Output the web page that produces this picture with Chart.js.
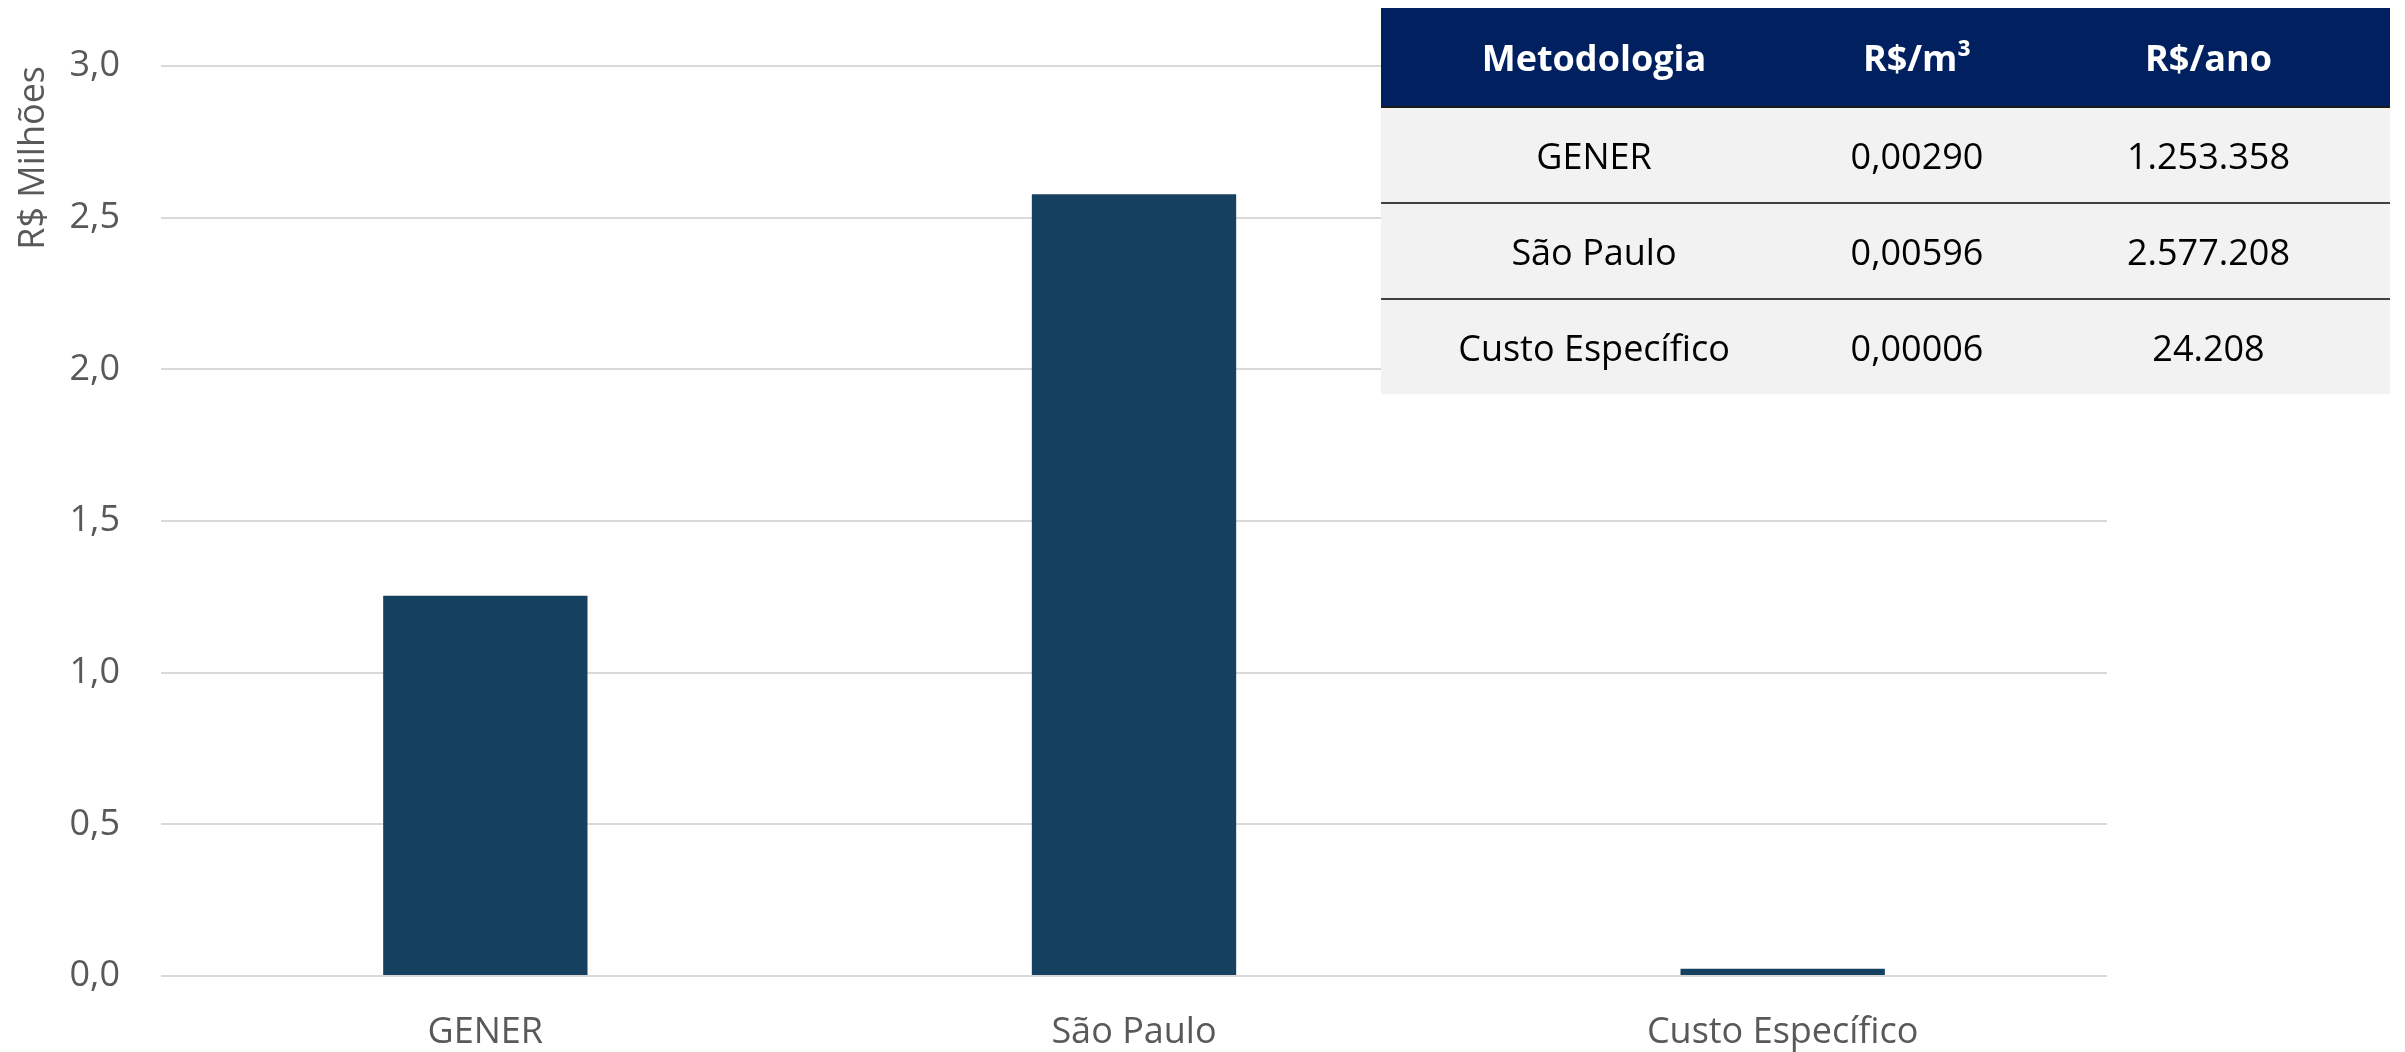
<!DOCTYPE html>
<html>
<head>
<meta charset="utf-8">
<script src="https://cdn.jsdelivr.net/npm/chart.js@4.4.0/dist/chart.umd.min.js"></script>
<style>
    html, body { margin: 0; padding: 0; background: #fff; }
    #wrap { position: relative; width: 2405px; height: 1052px; }
    #custos { position: absolute; left: 0; top: 0; }
    #tabela {
        position: absolute; left: 1381px; top: 8px; width: 1009px;
        border-collapse: collapse; font-family: "Open Sans", sans-serif; font-size: 36px;
        table-layout: fixed;
    }
    #tabela th {
        background: #002060; color: #fff; font-weight: bold; height: 98px; padding: 0;
        border-bottom: 2px solid #1a1a1a; text-align: center;
    }
    #tabela td {
        background: #f2f2f2; color: #000; height: 94px; padding: 0; text-align: center;
    }
    #tabela tr + tr td { border-top: 2px solid #404040; }
    #tabela tbody tr:first-child td { border-top: none; }
</style>
</head>
<body>
<div id="wrap">
    <canvas id="custos" width="2405" height="1052"></canvas>
    <table id="tabela">
        <colgroup><col style="width:426px"><col style="width:220px"><col style="width:363px"></colgroup>
        <thead><tr id="cabecalho"></tr></thead>
        <tbody id="corpo"></tbody>
    </table>
</div>
<script>
    // valores do gráfico (R$ milhões por ano)
    const metodologias = ['GENER', 'São Paulo', 'Custo Específico'];
    const custoAnualMilhoes = [1.253358, 2.577208, 0.024208];
    const yTicks = [0, 0.5, 1.0, 1.5, 2.0, 2.5, 3.0];

    // tabela ao lado
    const colunasTabela = ['Metodologia', 'R$/m³', 'R$/ano'];
    const custoPorM3 = ['0,00290', '0,00596', '0,00006'];
    const custoPorAno = ['1.253.358', '2.577.208', '24.208'];

    const corBarra = '#16405f';
    const corTexto = '#595959';
    const fonte = '"Open Sans", sans-serif';

    // monta a tabela
    const cab = document.getElementById('cabecalho');
    colunasTabela.forEach(c => {
        const th = document.createElement('th');
        th.textContent = c;
        cab.appendChild(th);
    });
    const corpo = document.getElementById('corpo');
    metodologias.forEach((m, i) => {
        const tr = document.createElement('tr');
        [m, custoPorM3[i], custoPorAno[i]].forEach(v => {
            const td = document.createElement('td');
            td.textContent = v;
            tr.appendChild(td);
        });
        corpo.appendChild(tr);
    });

    Chart.defaults.font.family = fonte;
    Chart.defaults.color = corTexto;

    new Chart(document.getElementById('custos'), {
        type: 'bar',
        data: {
            labels: metodologias,
            datasets: [{
                label: 'R$ Milhões',
                data: custoAnualMilhoes,
                backgroundColor: corBarra,
                borderWidth: 0,
                categoryPercentage: 1,
                barPercentage: 0.315,
            }]
        },
        options: {
            responsive: false,
            animation: false,
            layout: { padding: { left: 0, right: 298, top: 66, bottom: 0 } },
            plugins: {
                legend: { display: false },
                tooltip: { enabled: false },
            },
            scales: {
                x: {
                    grid: { display: false, drawTicks: false },
                    border: { display: false },
                    ticks: { font: { size: 36 }, color: corTexto, padding: 35 },
                    afterFit: (s) => { s.height = 76; },
                },
                y: {
                    min: 0,
                    max: 3,
                    afterBuildTicks: (s) => { s.ticks = yTicks.map(v => ({ value: v })); },
                    grid: { color: '#d9d9d9', lineWidth: 2, drawTicks: false },
                    border: { display: false },
                    ticks: {
                        font: { size: 36 }, color: corTexto, padding: 41,
                        callback: (v) => v.toFixed(1).replace('.', ','),
                    },
                    title: {
                        display: true,
                        text: 'R$ Milhões',
                        align: 'end',
                        color: corTexto,
                        font: { size: 36 },
                        padding: { top: 12, bottom: 0 },
                    },
                    afterFit: (s) => { s.width = 161; },
                }
            }
        }
    });
</script>
</body>
</html>
